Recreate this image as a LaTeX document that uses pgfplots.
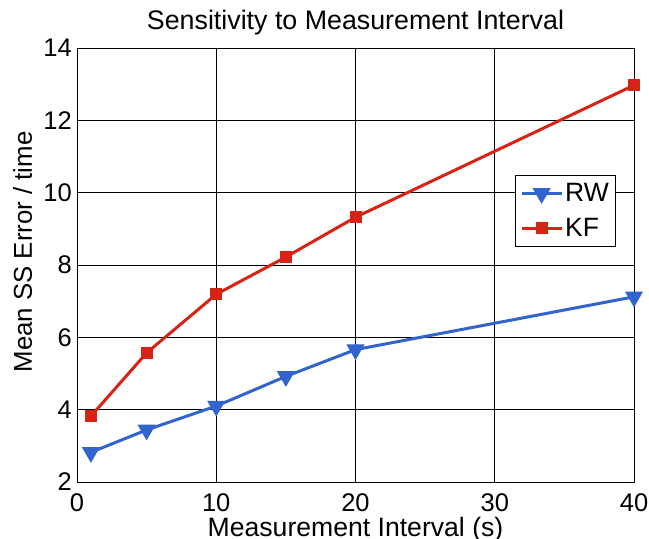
\documentclass[border=0pt]{standalone}
\usepackage{pgfplots}
\pgfplotsset{compat=1.18}
\usepackage{fontspec}
\setmainfont{Liberation Sans}
\definecolor{rwblue}{RGB}{50,100,205}
\definecolor{kfred}{RGB}{215,35,22}
\begin{document}
\begin{tikzpicture}
\begin{axis}[
  name=ax,
  scale only axis,
  width=557pt, height=434pt,
  xmin=0, xmax=40, ymin=2, ymax=14,
  xtick={0,10,20,30,40}, ytick={2,4,6,8,10,12,14},
  grid=major, grid style={black, line width=0.8pt},
  axis line style={black, line width=0.8pt},
  tick style={draw=none},
  /pgf/number format/assume math mode=true,
  ticklabel style={font=\fontsize{25.5}{28}\selectfont, inner sep=2pt},
  xticklabel style={yshift=-9pt},
  yticklabel style={xshift=-3pt},
  title={Sensitivity to Measurement Interval},
  title style={font=\fontsize{26.8}{30}\selectfont, at={(rel axis cs:0.5,1)}, anchor=base, yshift=12pt, inner sep=0pt},
  xlabel={Measurement Interval (s)},
  ylabel={Mean SS Error / time},
  xlabel style={font=\fontsize{26.6}{30}\selectfont, at={(rel axis cs:0.5,0)}, anchor=base, yshift=-55pt, inner sep=0pt},
  ylabel style={font=\fontsize{25.8}{30}\selectfont, at={(rel axis cs:0,0.53)}, anchor=base, yshift=45pt, inner sep=0pt},
  legend style={at={(0.968,0.707)}, anchor=north east, draw=black, line width=0.8pt,
    font=\fontsize{26.5}{30}\selectfont, inner xsep=5pt, inner ysep=6pt, row sep=11pt},
  legend cell align=left,
  legend image code/.code={\draw[mark repeat=2,mark phase=2] plot coordinates {(0pt,0pt) (20pt,0pt) (40pt,0pt)};},
]
\addplot[rwblue, line width=3pt, mark=triangle*, mark size=9.5pt, mark options={rotate=180, solid, line width=1pt}]
  coordinates {(1,2.82) (5,3.44) (10,4.1) (15,4.92) (20,5.66) (40,7.12)};
\addlegendentry{RW}
\addplot[kfred, line width=3pt, mark=square*, mark size=5.5pt, mark options={solid, line width=1pt}]
  coordinates {(1,3.82) (5,5.57) (10,7.19) (15,8.22) (20,9.32) (40,12.97)};
\addlegendentry{KF}
\end{axis}
\pgfresetboundingbox
\path[use as bounding box] ([xshift=-77pt,yshift=-57pt]ax.south west) rectangle ([xshift=15pt,yshift=48pt]ax.north east);
\end{tikzpicture}
\end{document}
